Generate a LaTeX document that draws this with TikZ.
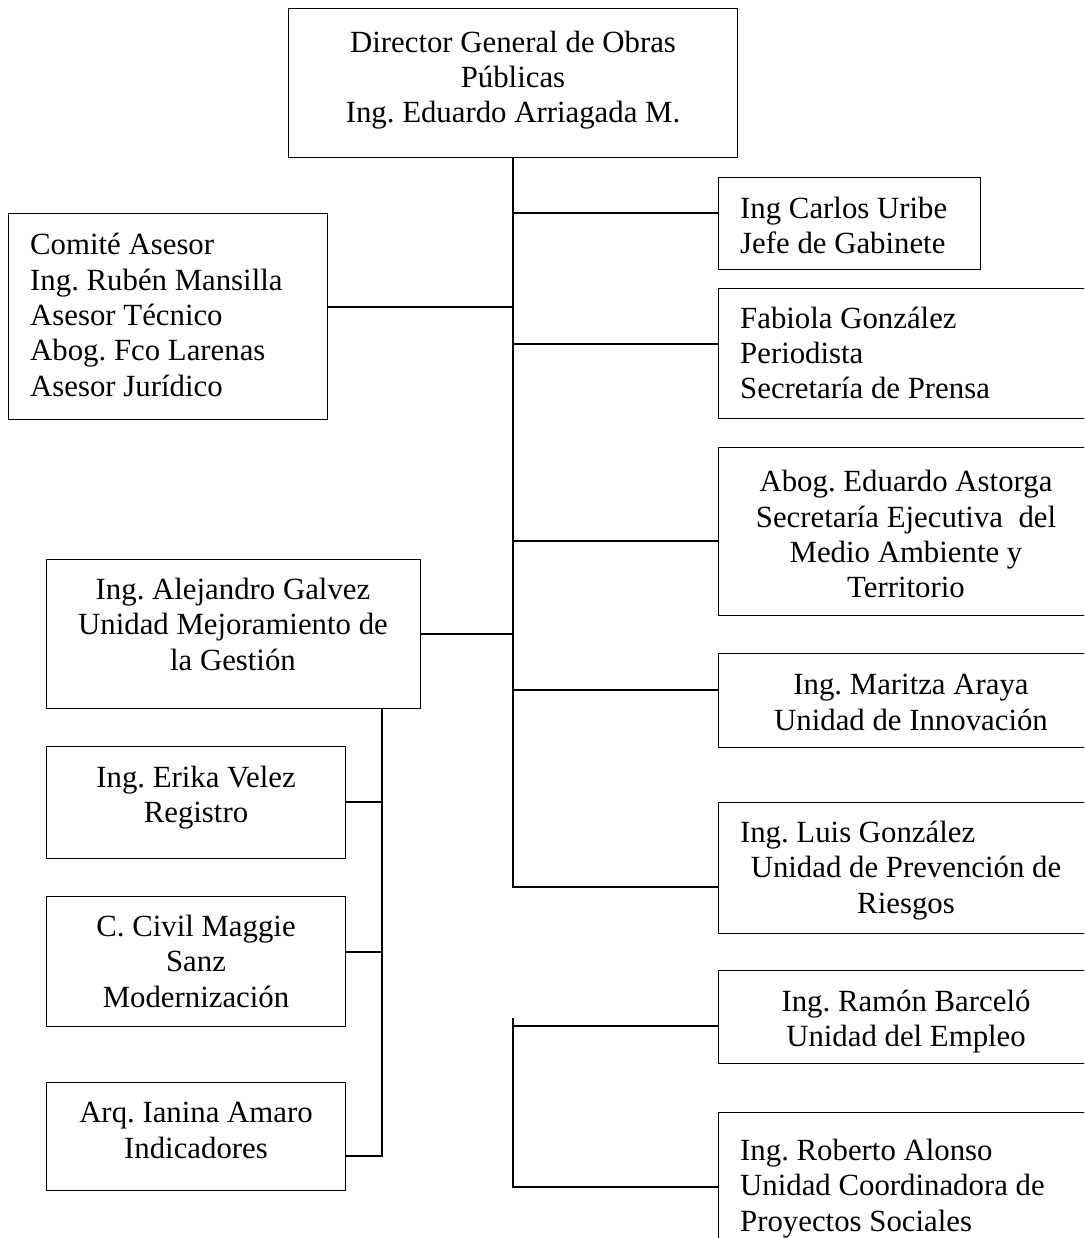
\documentclass[tikz,border=0pt]{standalone}
\usepackage{fontspec}
\setmainfont{Liberation Serif}
\frenchspacing
\begin{document}
\begin{tikzpicture}[x=1pt,y=-1pt,
  bx/.style={draw, line width=1.3pt, inner sep=0pt, anchor=north west},
  txt/.style={inner sep=0pt, font=\fontsize{30.8}{35.3}\selectfont,
    execute at begin node=\strut, execute at end node=\strut},
  ln/.style={line width=1.3pt}]
\useasboundingbox (0,0) rectangle (1084,1238);
\clip (0,0) rectangle (1084,1238);
% boxes
\node[bx, minimum width=449, minimum height=149] (top) at (288,8) {};
\node[bx, minimum width=262, minimum height=92] (carlos) at (718,177) {};
\node[bx, minimum width=400, minimum height=130] (fab) at (718,288) {};
\node[bx, minimum width=319, minimum height=206] (comite) at (8,213) {};
\node[bx, minimum width=400, minimum height=168] (astorga) at (718,447) {};
\node[bx, minimum width=374, minimum height=149] (galvez) at (46,559) {};
\node[bx, minimum width=400, minimum height=94] (maritza) at (718,653) {};
\node[bx, minimum width=400, minimum height=131] (luis) at (718,802) {};
\node[bx, minimum width=400, minimum height=93] (ramon) at (718,970) {};
\node[bx, minimum width=400, minimum height=150] (roberto) at (718,1112) {};
\node[bx, minimum width=299, minimum height=112] (erika) at (46,746) {};
\node[bx, minimum width=299, minimum height=130] (maggie) at (46,896) {};
\node[bx, minimum width=299, minimum height=108] (ianina) at (46,1082) {};
% texts
\node[txt, align=center] (topT) at (513,82) {Director General de Obras\\Públicas\\Ing. Eduardo Arriagada M.};
\node[txt, align=left, anchor=west] (carlosT) at (740,230.5) {Ing Carlos Uribe\\Jefe de Gabinete};
\node[txt, align=left, anchor=west] (fabT) at (740,358) {Fabiola González\\Periodista\\Secretaría de Prensa};
\node[txt, align=left, anchor=west] (comiteT) at (30,320) {Comité Asesor\\Ing. Rubén Mansilla\\Asesor Técnico\\Abog. Fco Larenas\\Asesor Jurídico};
\node[txt, align=center] (astorgaT) at (906,539.5) {Abog. Eduardo Astorga\\Secretaría Ejecutiva~ del\\Medio Ambiente y\\Territorio};
\node[txt, align=center] (galvezT) at (233,629.5) {Ing. Alejandro Galvez\\Unidad Mejoramiento de\\la Gestión};
\node[txt, align=center] (maritzaT) at (911,707.5) {Ing. Maritza Araya\\Unidad de Innovación};
\node[txt, align=center] (luisT) at (906,872.5) {\makebox[332pt][l]{Ing. Luis González}\\Unidad de Prevención de\\Riesgos};
\node[txt, align=center] (ramonT) at (906,1023.5) {Ing. Ramón Barceló\\Unidad del Empleo};
\node[txt, align=left, anchor=west] (robertoT) at (740,1190.5) {Ing. Roberto Alonso\\Unidad Coordinadora de\\Proyectos Sociales};
\node[txt, align=center] (erikaT) at (196,799.5) {Ing. Erika Velez\\Registro};
\node[txt, align=center] (maggieT) at (196,966.5) {C. Civil Maggie\\Sanz\\Modernización};
\node[txt, align=center] (ianinaT) at (196,1135.5) {Arq. Ianina Amaro\\Indicadores};
% junction coordinates
\coordinate (tj1) at (513,213);
\coordinate (tj2) at (513,344);
\coordinate (tj3) at (513,307);
\coordinate (tj4) at (513,541);
\coordinate (tj5) at (513,634);
\coordinate (tj6) at (513,690);
\coordinate (tj7) at (513,887);
\coordinate (bj0) at (513,1018);
\coordinate (bj1) at (513,1026);
\coordinate (bj2) at (513,1187);
\coordinate (sj1) at (382,802);
\coordinate (sj2) at (382,952);
\coordinate (sj3) at (382,1156);
% connectors
\draw[ln] (tj7 |- top.south) -- (tj7) -- (tj7 -| luis.west);
\draw[ln] (tj1) -- (tj1 -| carlos.west);
\draw[ln] (tj2) -- (tj2 -| fab.west);
\draw[ln] (tj3) -- (tj3 -| comite.east);
\draw[ln] (tj4) -- (tj4 -| astorga.west);
\draw[ln] (tj5) -- (tj5 -| galvez.east);
\draw[ln] (tj6) -- (tj6 -| maritza.west);
\draw[ln] (bj0) -- (bj2) -- (bj2 -| roberto.west);
\draw[ln] (bj1) -- (bj1 -| ramon.west);
\draw[ln] (galvez.south -| sj1) -- (sj3) -- (sj3 -| ianina.east);
\draw[ln] (sj1) -- (sj1 -| erika.east);
\draw[ln] (sj2) -- (sj2 -| maggie.east);
\end{tikzpicture}
\end{document}
